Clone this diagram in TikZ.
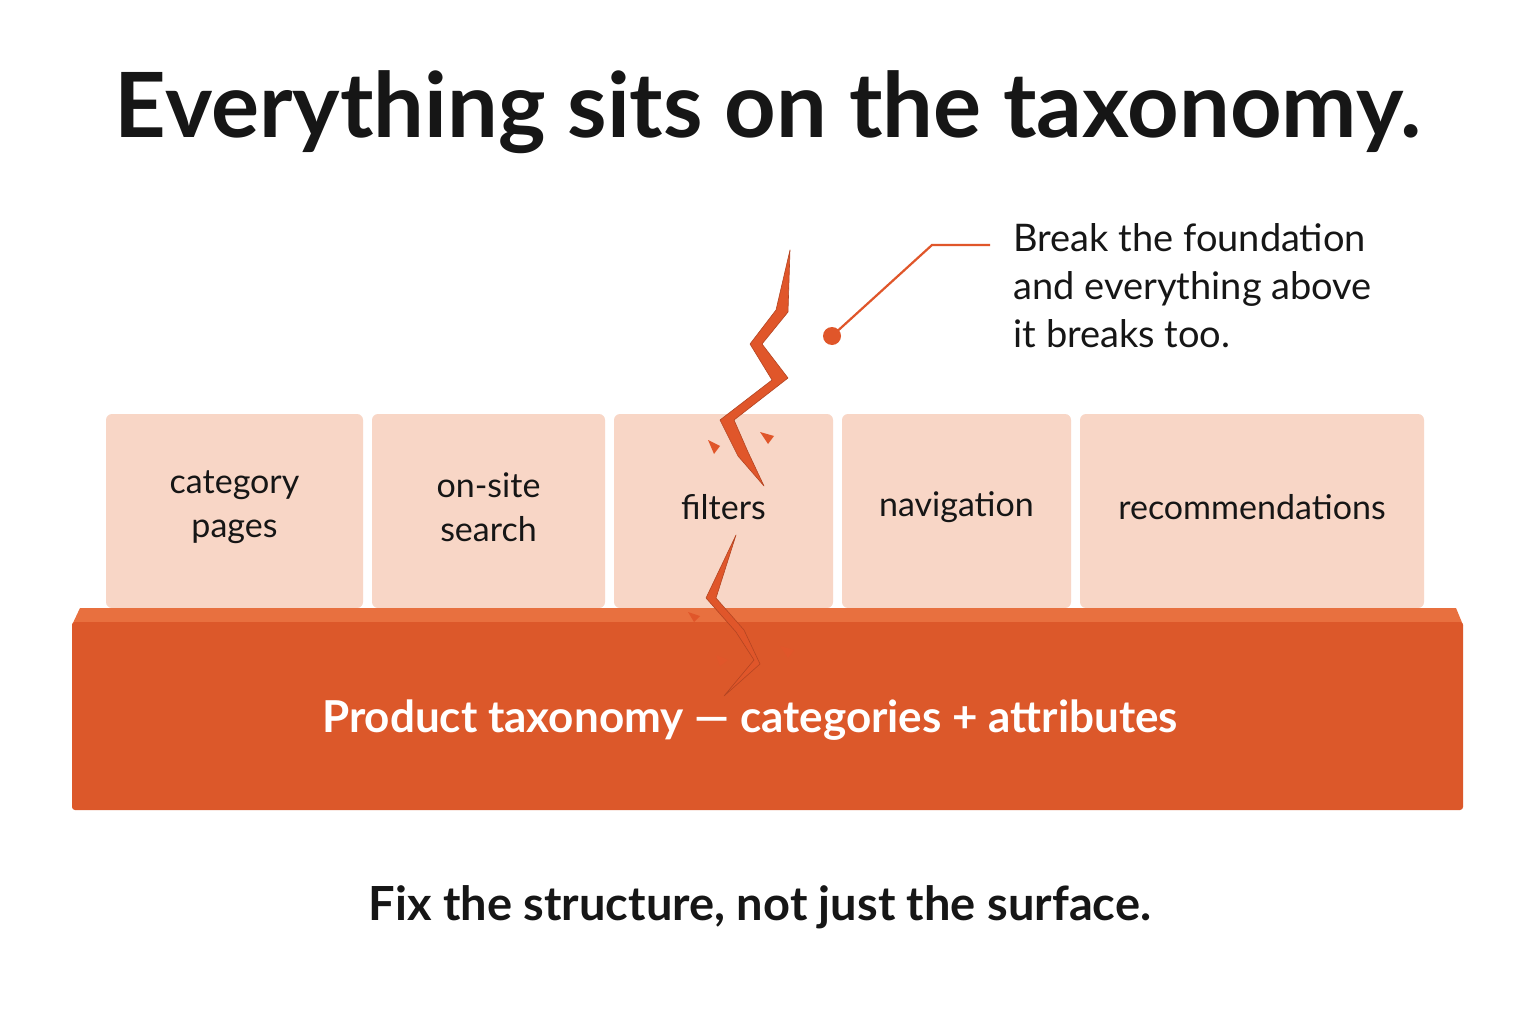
\documentclass[tikz,border=0pt]{standalone}
\usepackage{fontspec}
\setmainfont{Lato}
\definecolor{box}{HTML}{F8D6C6}
\definecolor{bar}{HTML}{DC582A}
\definecolor{bartop}{HTML}{E8703F}
\definecolor{acc}{HTML}{E0562A}
\definecolor{ink}{HTML}{161616}
\begin{document}
\begin{tikzpicture}[x=1pt,y=-1pt,
  blk/.style={fill=box,rounded corners=6pt,draw=none},
  lab/.style={font=\fontsize{34}{44}\selectfont,text=ink,align=center},
  crack/.style={fill=acc,draw=acc!80!black,line width=0.6pt,line join=round}]
\useasboundingbox[fill=white] (0,0) rectangle (1536,1024);
\node[font=\fontsize{90}{96}\selectfont\bfseries,text=ink] (title) at (768,112) {Everything sits on the taxonomy.};
% boxes
\foreach \n/\a/\b/\t in {b1/106/363/{category\\pages},b2/372/605/{on-site\\search},b3/614/833/{filters},b4/842/1071/{navigation},b5/1080/1424/{recommendations}}{
  \fill[blk] (\a,414) rectangle (\b,608);
  \node[lab] (\n) at ({(\a+\b)/2},507) {\t};
}
% bar
\fill[bartop] (80,608) -- (1456,608) -- (1463,625) -- (72,625) -- cycle;
\fill[bar,rounded corners=3pt] (72,622) rectangle (1463,810);
\node[font=\fontsize{44}{50}\selectfont\bfseries,text=white] (base) at (750,720) {Product taxonomy — categories + attributes};
% cracks
\fill[crack] (790,250) -- (788,312) -- (762,344) -- (788,378) -- (734,420) -- (748,452) -- (764,486) -- (738,456) -- (720,420) -- (772,380) -- (750,344) -- (776,310) -- cycle;
\fill[crack] (736,535) -- (716,598) -- (744,630) -- (760,664) -- (724,696) -- (754,660) -- (736,632) -- (706,598) -- cycle;
\fill[acc] (708,440) -- (720,446) -- (714,454) -- cycle;
\fill[acc] (760,432) -- (774,436) -- (768,444) -- cycle;
\fill[acc] (688,612) -- (700,616) -- (694,622) -- cycle;
\fill[acc] (780,646) -- (794,650) -- (788,658) -- cycle;
\fill[acc] (716,655) -- (728,660) -- (720,666) -- cycle;
% callout
\coordinate (dot) at (832,336);
\coordinate (elb) at (932,245);
\node[font=\fontsize{38}{48}\selectfont,text=ink,align=left,anchor=north west] (note) at (1010,220) {Break the foundation\\and everything above\\it breaks too.};
\fill[acc] (dot) circle (9);
\draw[acc,line width=2.2pt] (dot) -- (elb) -- (990,245);
\node[font=\fontsize{47}{52}\selectfont\bfseries,text=ink] (foot) at (760,907) {Fix the structure, not just the surface.};
\end{tikzpicture}
\end{document}
